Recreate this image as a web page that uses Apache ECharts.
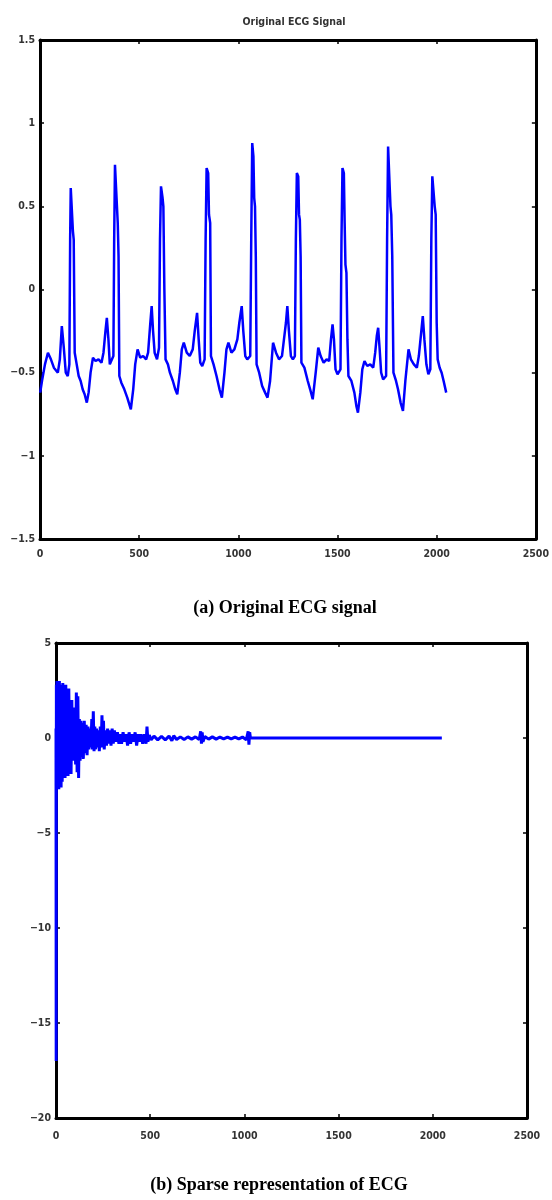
<!DOCTYPE html>
<html><head><meta charset="utf-8">
<script src="https://cdn.jsdelivr.net/npm/echarts@6/dist/echarts.min.js"></script>
<style>html,body{margin:0;padding:0;background:#fff}#c{width:552px;height:1200px}</style>
</head><body><div id="c"></div>
<script>
// ---- Data: Original ECG signal (sample index, amplitude) ----
const ecgX = [1,10,25,40,55,70,90,100,110,120,130,140,148,152,155,162,166,170,175,185,195,205,215,225,236,245,255,267,280,295,310,320,330,337,345,352,362,370,374,378,388,392,396,400,410,425,440,458,470,480,492,505,520,535,545,555,563,570,578,590,600,605,610,618,622,627,633,645,655,670,682,692,705,715,725,740,755,770,780,792,800,808,818,830,835,840,848,852,858,862,875,890,905,917,930,940,950,965,980,995,1005,1017,1025,1035,1045,1060,1065,1070,1076,1080,1084,1088,1092,1105,1120,1135,1147,1160,1175,1190,1205,1220,1230,1240,1247,1255,1265,1275,1285,1290,1295,1302,1306,1310,1314,1318,1333,1350,1362,1375,1390,1403,1415,1430,1445,1458,1467,1475,1482,1490,1500,1515,1520,1525,1532,1536,1540,1545,1550,1555,1570,1585,1595,1603,1615,1625,1636,1650,1665,1680,1690,1698,1705,1712,1720,1730,1745,1750,1755,1762,1767,1771,1776,1782,1795,1805,1818,1830,1842,1858,1870,1885,1900,1910,1920,1930,1938,1948,1958,1968,1973,1978,1985,1990,1995,2000,2005,2015,2025,2035,2048];
const ecgY = [-0.62,-0.55,-0.45,-0.38,-0.42,-0.47,-0.50,-0.42,-0.22,-0.35,-0.50,-0.52,-0.45,0.30,0.61,0.60,0.35,0.30,-0.38,-0.45,-0.52,-0.55,-0.60,-0.63,-0.68,-0.62,-0.50,-0.41,-0.43,-0.42,-0.44,-0.38,-0.25,-0.17,-0.30,-0.45,-0.46,-0.40,0.30,0.75,0.74,0.40,0.20,-0.52,-0.56,-0.60,-0.65,-0.72,-0.60,-0.45,-0.36,-0.41,-0.40,-0.42,-0.38,-0.22,-0.10,-0.25,-0.38,-0.42,-0.35,0.30,0.62,0.55,0.50,0.00,-0.42,-0.45,-0.50,-0.55,-0.60,-0.63,-0.50,-0.36,-0.32,-0.38,-0.40,-0.36,-0.25,-0.14,-0.30,-0.44,-0.46,-0.42,0.30,0.73,0.70,0.45,0.40,-0.40,-0.45,-0.52,-0.60,-0.65,-0.50,-0.36,-0.32,-0.38,-0.36,-0.30,-0.20,-0.10,-0.25,-0.40,-0.42,-0.40,0.30,0.88,0.80,0.55,0.50,0.20,-0.45,-0.50,-0.58,-0.62,-0.65,-0.55,-0.32,-0.38,-0.42,-0.40,-0.30,-0.20,-0.10,-0.25,-0.40,-0.42,-0.40,0.30,0.70,0.68,0.45,0.42,0.20,-0.44,-0.47,-0.55,-0.60,-0.66,-0.50,-0.35,-0.40,-0.44,-0.42,-0.43,-0.30,-0.21,-0.30,-0.48,-0.51,-0.48,0.30,0.73,0.70,0.40,0.15,0.10,-0.30,-0.52,-0.55,-0.62,-0.70,-0.74,-0.62,-0.48,-0.43,-0.46,-0.45,-0.47,-0.38,-0.28,-0.23,-0.35,-0.50,-0.54,-0.52,0.30,0.86,0.85,0.50,0.45,0.20,-0.50,-0.55,-0.60,-0.68,-0.73,-0.55,-0.36,-0.42,-0.45,-0.47,-0.40,-0.28,-0.16,-0.30,-0.45,-0.51,-0.48,0.30,0.68,0.67,0.50,0.45,-0.20,-0.42,-0.47,-0.50,-0.55,-0.62];

// ---- Data: Sparse representation (coefficient index, value) ----
const sparseX = [0,1,2,3,5,7,9,11,13,15,18,21,24,27,30,33,36,40,44,48,52,56,60,64,68,72,76,80,84,88,92,96,100,104,108,112,116,120,124,128,132,136,140,145,150,155,160,165,170,175,180,185,190,194,198,202,206,210,215,220,225,230,235,240,244,248,252,256,262,268,274,280,286,292,298,304,310,318,326,334,340,348,356,364,372,380,388,396,404,412,420,428,436,444,452,460,470,478,483,488,495,505,520,540,560,580,600,615,625,640,660,680,700,720,740,760,768,772,776,780,790,810,830,850,870,890,910,930,950,970,990,1010,1020,1024,1028,1032,1040,1300,1600,1900,2048];
const sparseY = [0.5,-17,2.8,-2.6,3.0,-2.7,2.9,-2.5,2.7,-2.7,3.0,-2.4,2.8,-2.6,2.5,-2.3,2.9,-2.0,2.6,-2.1,2.8,-1.9,2.2,-2.0,2.6,-1.6,1.8,-1.9,2.0,-1.2,1.5,-1.0,1.6,-1.4,2.4,-1.8,2.2,-2.1,1.0,-1.2,0.9,-1.0,0.8,-1.1,0.9,-0.8,0.7,-0.9,0.6,-0.6,0.5,-0.5,1.0,-0.6,1.4,-0.7,0.6,-0.6,0.5,-0.5,0.4,-0.7,0.6,-0.5,1.2,-0.4,0.9,-0.6,0.4,-0.4,0.5,-0.3,0.4,-0.4,0.5,-0.3,0.4,-0.2,0.3,-0.3,0.2,-0.3,0.3,-0.2,0.2,-0.4,0.3,-0.3,0.2,-0.2,0.3,-0.4,0.2,-0.2,0.2,-0.3,0.2,-0.3,0.6,-0.2,0.15,-0.1,0.1,-0.1,0.08,-0.1,0.1,-0.15,0.12,-0.08,0.06,-0.08,0.06,-0.06,0.06,-0.08,0.35,-0.3,0.3,-0.2,0.08,-0.06,0.06,-0.06,0.05,-0.05,0.05,-0.05,0.05,-0.05,0.05,-0.1,0.35,-0.35,0.3,0,0,0,0,0,0];

// ---- Axis ticks ----
const xTicks = [0, 500, 1000, 1500, 2000, 2500];
const yTicksTop = [-1.5, -1, -0.5, 0, 0.5, 1, 1.5];
const yTicksBottom = [-20, -15, -10, -5, 0, 5];

const ecgData = ecgX.map((x, i) => [x, ecgY[i]]);
const sparseData = sparseX.map((x, i) => [x, sparseY[i]]);

const tickFont = {fontFamily: '"DejaVu Sans Condensed","Liberation Sans Narrow",sans-serif', fontSize: 10.5, color: '#333', fontWeight: 'bold'};
const lineStyle = {color: '#000', width: 3};
const fmt = v => String(v).replace('-', '\u2212');

function xAxes(gridIndex, margin) {
  return [
    {type: 'value', gridIndex, position: 'bottom', min: xTicks[0], max: xTicks[xTicks.length - 1], interval: 500,
     axisLine: {onZero: false, lineStyle}, axisTick: {inside: true, length: 4, lineStyle: {color: '#000', width: 1.5}},
     axisLabel: Object.assign({margin, formatter: fmt}, tickFont), splitLine: {show: false}},
    {type: 'value', gridIndex, position: 'top', min: xTicks[0], max: xTicks[xTicks.length - 1], interval: 500,
     axisLine: {onZero: false, lineStyle}, axisTick: {inside: true, length: 4, lineStyle: {color: '#000', width: 1.5}},
     axisLabel: {show: false}, splitLine: {show: false}}
  ];
}
function yAxes(gridIndex, ticks, step) {
  return [
    {type: 'value', gridIndex, position: 'left', min: ticks[0], max: ticks[ticks.length - 1], interval: step,
     axisLine: {onZero: false, lineStyle}, axisTick: {inside: true, length: 4, lineStyle: {color: '#000', width: 1.5}},
     axisLabel: Object.assign({margin: 5, formatter: fmt}, tickFont), splitLine: {show: false}},
    {type: 'value', gridIndex, position: 'right', min: ticks[0], max: ticks[ticks.length - 1], interval: step,
     axisLine: {onZero: false, lineStyle}, axisTick: {inside: true, length: 4, lineStyle: {color: '#000', width: 1.5}},
     axisLabel: {show: false}, splitLine: {show: false}}
  ];
}

const chart = echarts.init(document.getElementById('c'), null, {renderer: 'canvas'});
chart.setOption({
  backgroundColor: '#fff',
  animation: false,
  title: [
    {text: 'Original ECG Signal', left: 289, top: 12, textAlign: 'center',
     textStyle: {fontFamily: '"DejaVu Sans Condensed","Liberation Sans Narrow",sans-serif', fontSize: 10.5, fontWeight: 'bold', color: '#333'}},
    {text: '(a) Original ECG signal', left: 280, top: 594, textAlign: 'center',
     textStyle: {fontFamily: '"Liberation Serif","Times New Roman",serif', fontSize: 18, fontWeight: 'bold', color: '#000'}},
    {text: '(b) Sparse representation of ECG', left: 274, top: 1171, textAlign: 'center',
     textStyle: {fontFamily: '"Liberation Serif","Times New Roman",serif', fontSize: 18, fontWeight: 'bold', color: '#000'}}
  ],
  grid: [
    {left: 40, top: 40, width: 499, height: 499},
    {left: 56, top: 643, width: 471, height: 475}
  ],
  xAxis: [...xAxes(0, 10), ...xAxes(1, 13)],
  yAxis: [...yAxes(0, yTicksTop, 0.5), ...yAxes(1, yTicksBottom, 5)],
  series: [
    {type: 'line', xAxisIndex: 0, yAxisIndex: 0, data: ecgData, showSymbol: false,
     lineStyle: {color: '#0000ff', width: 2.5}},
    {type: 'line', xAxisIndex: 2, yAxisIndex: 2, data: sparseData, showSymbol: false,
     lineStyle: {color: '#0000ff', width: 3}}
  ]
});
</script></body></html>
